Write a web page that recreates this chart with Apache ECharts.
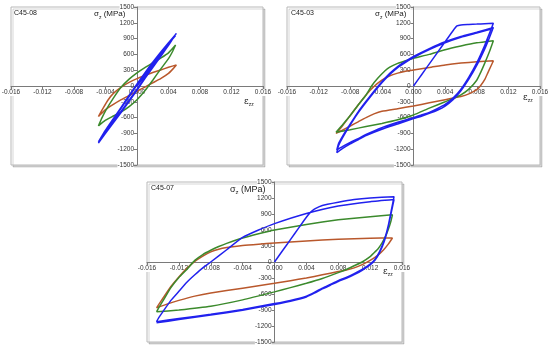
<!DOCTYPE html>
<html><head><meta charset="utf-8">
<script src="https://cdn.jsdelivr.net/npm/echarts@6/dist/echarts.min.js"></script>
<style>html,body{margin:0;padding:0;background:#fff}#c{width:550px;height:348px}</style>
</head><body><div id="c"></div>
<script>
// ---- data ----
const panelTitles = ['C45-08', 'C45-03', 'C45-07'];
const strainMin = -0.016, strainMax = 0.016, strainStep = 0.004;
const stressMin = -1500, stressMax = 1500, stressStep = 300;
const seriesColors = ['#b9582c', '#3b8a2c', '#2121ee'];

const c08Brown = [
[-0.0049,-580],[-0.0043,-420],[-0.0037,-270],[-0.003,-140],[-0.002,-20],[-0.001,70],[0,140],[0.001,200],[0.002,255],[0.003,305],[0.004,355],[0.005,400],
[0.0046,330],[0.004,240],[0.003,140],[0.002,60],[0.001,-20],[0,-100],[-0.001,-180],[-0.002,-260],[-0.003,-350],[-0.004,-450],[-0.0049,-580]];
const c08Green = [
[-0.0049,-760],[-0.0045,-620],[-0.004,-470],[-0.003,-230],[-0.002,-20],[-0.001,130],[0,250],[0.001,350],[0.002,440],[0.003,530],[0.004,630],[0.0049,778],
[0.0045,650],[0.004,520],[0.003,320],[0.002,110],[0.001,-90],[0,-260],[-0.001,-390],[-0.002,-490],[-0.003,-570],[-0.004,-650],[-0.0049,-760]];
const c08Blue = [
[0,0],[0.001,200],[0.002,400],[0.003,600],[0.004,800],[0.005,1000],
[0.004,790],[0.003,580],[0.002,370],[0.001,160],[0,-60],[-0.001,-270],[-0.002,-480],[-0.003,-680],[-0.004,-880],[-0.0049,-1060],
[-0.004,-840],[-0.003,-620],[-0.002,-400],[-0.001,-180],[0,40],[0.001,250],[0.002,450],[0.003,640],[0.004,820],[0.0049,980],
[0.004,770],[0.003,560],[0.002,350],[0.001,140],[0,-80],[-0.001,-290],[-0.002,-500],[-0.003,-700],[-0.004,-900],[-0.0049,-1085],
[-0.004,-860],[-0.003,-640],[-0.002,-420],[-0.001,-200],[0,20],[0.001,230],[0.002,430],[0.003,620],[0.004,800],[0.0049,960]];

const c03Brown = [
[-0.0098,-900],[-0.009,-760],[-0.008,-560],[-0.007,-360],[-0.006,-170],[-0.005,-10],[-0.004,110],[-0.003,195],[-0.002,245],[-0.001,280],[0,305],[0.002,350],[0.004,400],[0.006,435],[0.008,460],[0.0101,478],
[0.0098,380],[0.0094,250],[0.009,120],[0.0085,10],[0.008,-70],[0.007,-150],[0.006,-200],[0.004,-260],[0.002,-320],[0,-380],[-0.002,-430],[-0.004,-480],[-0.005,-530],[-0.006,-600],[-0.007,-680],[-0.008,-760],[-0.009,-840],[-0.0098,-900]];
const c03Green = [
[-0.0098,-880],[-0.009,-740],[-0.008,-560],[-0.007,-360],[-0.006,-170],[-0.0053,0],[-0.0045,150],[-0.0036,290],[-0.003,360],[-0.002,430],[-0.001,480],[0,525],[0.002,600],[0.004,690],[0.006,760],[0.008,820],[0.0101,861],
[0.0096,650],[0.009,430],[0.0085,260],[0.008,110],[0.007,-60],[0.006,-170],[0.005,-240],[0.004,-300],[0.002,-420],[0,-550],[-0.002,-640],[-0.004,-710],[-0.006,-770],[-0.008,-830],[-0.0098,-880]];
const c03Blue = [
[0,0],[0.001,210],[0.002,420],[0.003,630],[0.004,840],[0.005,1050],[0.0055,1140],[0.006,1160],[0.007,1168],[0.008,1175],[0.009,1183],[0.0101,1190],
[0.0095,960],[0.009,770],[0.008,440],[0.007,170],[0.006,-60],[0.005,-230],[0.004,-350],[0.003,-430],[0.002,-500],[0.001,-550],[0,-600],[-0.002,-690],[-0.004,-790],[-0.006,-920],[-0.007,-1000],[-0.008,-1070],[-0.009,-1150],[-0.0097,-1215],
[-0.0095,-1100],[-0.009,-960],[-0.008,-720],[-0.007,-490],[-0.006,-290],[-0.005,-100],[-0.004,80],[-0.003,240],[-0.002,370],[-0.001,470],[0,560],[0.002,710],[0.004,840],[0.006,940],[0.008,1020],[0.0101,1110],
[0.0095,880],[0.009,700],[0.008,390],[0.007,130],[0.006,-90],[0.005,-260],[0.004,-380],[0.003,-460],[0.002,-520],[0.001,-575],[0,-620],[-0.002,-720],[-0.004,-820],[-0.006,-940],[-0.007,-1020],[-0.008,-1100],[-0.009,-1190],[-0.0097,-1265],
[-0.0095,-1140],[-0.009,-990],[-0.008,-740],[-0.007,-510],[-0.006,-310],[-0.005,-120],[-0.004,60],[-0.003,220],[-0.002,350],[-0.001,450],[0,540],[0.002,690],[0.004,820],[0.006,925],[0.008,1005],[0.0101,1090]];

const c07Brown = [
[-0.0148,-860],[-0.014,-680],[-0.013,-460],[-0.012,-280],[-0.011,-120],[-0.01,10],[-0.009,110],[-0.008,190],[-0.007,240],[-0.006,270],[-0.004,310],[-0.002,335],[0,355],[0.004,395],[0.008,425],[0.012,445],[0.0148,450],
[0.0143,340],[0.0137,230],[0.013,130],[0.012,30],[0.011,-50],[0.01,-110],[0.009,-150],[0.008,-180],[0.006,-240],[0.004,-300],[0.002,-350],[0,-400],[-0.004,-490],[-0.008,-580],[-0.01,-640],[-0.012,-720],[-0.0135,-790],[-0.0148,-860]];
const c07Green = [
[-0.0148,-935],[-0.0145,-850],[-0.014,-730],[-0.013,-480],[-0.012,-290],[-0.011,-140],[-0.01,30],[-0.009,140],[-0.008,220],[-0.007,290],[-0.006,350],[-0.004,450],[-0.002,530],[0,600],[0.004,705],[0.008,790],[0.012,850],[0.0148,885],
[0.0146,760],[0.0143,620],[0.0139,470],[0.0135,360],[0.013,250],[0.0124,160],[0.012,100],[0.011,0],[0.01,-70],[0.009,-140],[0.008,-200],[0.006,-310],[0.004,-400],[0.002,-480],[0,-560],[-0.004,-710],[-0.008,-830],[-0.012,-900],[-0.0148,-935]];
const c07Blue = [
[0,0],[0.001,210],[0.002,420],[0.003,630],[0.004,840],[0.0045,930],[0.005,990],[0.006,1060],[0.008,1120],[0.01,1170],[0.012,1200],[0.015,1225],
[0.0147,1000],[0.0143,700],[0.0138,420],[0.0132,200],[0.0126,50],[0.012,-40],[0.011,-140],[0.01,-220],[0.009,-290],[0.008,-350],[0.007,-420],[0.006,-490],[0.005,-570],[0.004,-640],[0.002,-720],[0,-780],[-0.004,-890],[-0.008,-980],[-0.012,-1060],[-0.0148,-1120],
[-0.0145,-1040],[-0.014,-930],[-0.013,-720],[-0.012,-550],[-0.011,-380],[-0.01,-240],[-0.009,-110],[-0.008,0],[-0.006,230],[-0.004,460],[-0.002,600],[0,720],[0.004,910],[0.008,1050],[0.012,1130],[0.015,1170],
[0.0147,960],[0.0143,680],[0.0138,400],[0.0132,180],[0.0126,30],[0.012,-55],[0.011,-155],[0.01,-235],[0.009,-305],[0.008,-365],[0.007,-435],[0.006,-505],[0.005,-585],[0.004,-655],[0.002,-735],[0,-795],[-0.004,-905],[-0.008,-995],[-0.012,-1080],[-0.0148,-1140]];

const panelData = [
  [c08Brown, c08Green, c08Blue],
  [c03Brown, c03Green, c03Blue],
  [c07Brown, c07Green, c07Blue]
];

// ---- layout / styles ----
const grids = [
  {left: 11, top: 7, width: 252, height: 158},
  {left: 287, top: 7, width: 253, height: 158},
  {left: 147, top: 182, width: 255, height: 160}
];
const FONT = 'Liberation Sans, Arial, sans-serif';
const axisColor = '#7a7a7a';
const labelStyle = {fontSize: 6.5, color: '#333', fontFamily: FONT,
  rich: {e: {fontSize: 6.5, color: '#333', fontFamily: FONT, backgroundColor: '#fff'}}};

const option = {
  animation: false,
  backgroundColor: '#fff',
  grid: grids.map(g => Object.assign({
    show: true, borderColor: '#b8b8b8', borderWidth: 1, backgroundColor: '#fff',
    shadowColor: 'rgba(0,0,0,0.16)', shadowOffsetX: 2, shadowOffsetY: 2, shadowBlur: 0,
    containLabel: false, outerBoundsMode: 'none'
  }, g)),
  // axes cross at the centre of each frame (0 is midway between symmetric min/max)
  xAxis: grids.map((g, i) => ({
    gridIndex: i, type: 'value', min: strainMin, max: strainMax, interval: strainStep,
    position: 'bottom', offset: -g.height / 2,
    axisLine: {onZero: false, lineStyle: {color: axisColor, width: 1}},
    axisTick: {show: true, length: 3, lineStyle: {color: axisColor}},
    axisLabel: Object.assign({margin: 3, showMinLabel: true, showMaxLabel: true, hideOverlap: false,
      formatter: v => Math.abs(Math.abs(v) - strainMax) < 1e-9 ? '{e|' + v.toFixed(3) + '}' : v.toFixed(3)}, labelStyle),
    splitLine: {show: false}
  })),
  yAxis: grids.map((g, i) => ({
    gridIndex: i, type: 'value', min: stressMin, max: stressMax, interval: stressStep,
    position: 'left', offset: -g.width / 2,
    axisLine: {onZero: false, lineStyle: {color: axisColor, width: 1}},
    axisTick: {show: true, length: 3, lineStyle: {color: axisColor}},
    axisLabel: Object.assign({margin: 3, showMinLabel: true, showMaxLabel: true, hideOverlap: false,
      formatter: v => Math.abs(v) === stressMax ? '{e|' + Math.round(v) + '}' : String(Math.round(v))}, labelStyle),
    splitLine: {show: false}
  })),
  series: [],
  graphic: []
};

panelData.forEach((arr, p) => {
  arr.forEach((d, k) => {
    option.series.push({
      type: 'line', xAxisIndex: p, yAxisIndex: p, data: d,
      showSymbol: false, symbol: 'none', smooth: 0.15,
      lineStyle: {color: seriesColors[k], width: 1.5}, z: 2 + k
    });
  });
});

// text annotations
const titlePos = [[14, 14], [291, 14], [151, 189]];
const sigmaPos = [[94, 16, 8], [375, 16, 8], [230, 191, 9]];
const epsPos = [[244, 103], [523, 99], [383, 273]];
panelTitles.forEach((t, p) => {
  option.graphic.push({type: 'text', left: titlePos[p][0], top: titlePos[p][1] - 4, z: 10,
    style: {text: t, fontSize: 7, fill: '#222', fontFamily: FONT}});
  const fs = sigmaPos[p][2];
  option.graphic.push({type: 'text', left: sigmaPos[p][0], top: sigmaPos[p][1] - 6, z: 10,
    style: {text: '{a|σ}{s|z}{a| (MPa)}', fontFamily: FONT,
      rich: {a: {fontSize: fs, fill: '#222', fontFamily: FONT, lineHeight: 12, verticalAlign: 'middle'},
             s: {fontSize: fs - 3, fill: '#222', fontFamily: FONT, lineHeight: 12, verticalAlign: 'bottom'}}}});
  option.graphic.push({type: 'text', left: epsPos[p][0], top: epsPos[p][1] - 6, z: 10,
    style: {text: '{a|ε}{s|zz}', fontFamily: FONT,
      rich: {a: {fontSize: 9, fill: '#222', fontFamily: 'DejaVu Serif, serif', lineHeight: 12, verticalAlign: 'middle'},
             s: {fontSize: 5, fill: '#222', fontFamily: FONT, lineHeight: 12, verticalAlign: 'bottom'}}}});
});

const chart = echarts.init(document.getElementById('c'), null, {renderer: 'canvas'});
chart.setOption(option);
</script>
</body></html>
